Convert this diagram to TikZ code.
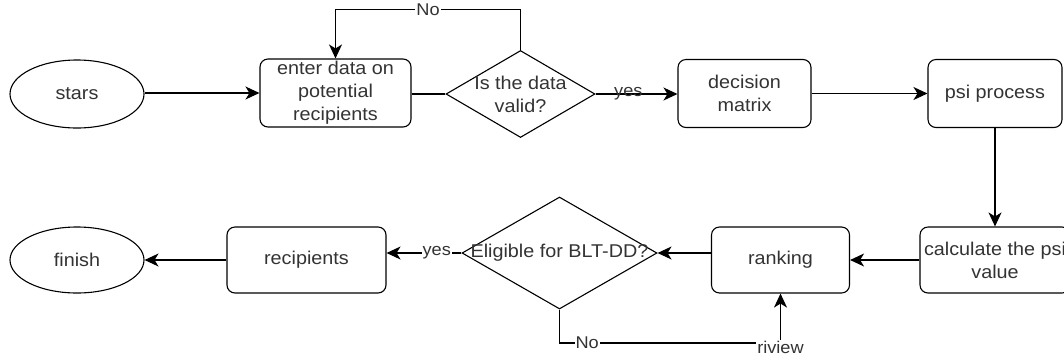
\documentclass[tikz,border=0pt]{standalone}
\usepackage{fontspec}
\setmainfont{Liberation Sans}[FakeStretch=1.07]
\usetikzlibrary{shapes.geometric,arrows.meta}
\begin{document}
\begin{tikzpicture}[x=1pt,y=-1pt,
  every node/.style={font=\fontsize{18.5}{23}\selectfont, text=black!80, align=center},
  oval/.style={draw, ellipse, line width=1.1pt, inner sep=0pt},
  box/.style={draw, rectangle, rounded corners=8pt, line width=1.1pt, inner sep=0pt},
  dia/.style={draw, diamond, line width=1.1pt, inner sep=0pt},
  txt/.style={inner sep=0pt},
  arr/.style={-{Stealth[length=14pt,width=13pt,inset=4pt]}, line width=1.1pt},
  ln/.style={line width=1.1pt},
  lbl/.style={font=\fontsize{17}{20}\selectfont, inner sep=1pt},
  lblw/.style={lbl, fill=white}
]
\useasboundingbox (0,0) rectangle (1064,360);
\begin{scope}
\clip (0,0) rectangle (1064,360);
% top row
\node[oval, minimum width=134pt, minimum height=68pt] (stars) at (77,94) {stars};
\node[box, minimum width=151pt, minimum height=68pt] (enter) at (335.5,93) {};
\node[txt] (entert) at (335.5,93) {enter data on\\potential\\recipients};
\node[dia, minimum width=149pt, minimum height=87pt] (valid) at (520.5,94) {};
\node[txt] (validt) at (520.5,94) {Is the data\\valid?};
\node[box, minimum width=133pt, minimum height=68pt] (decision) at (744.5,93.5) {decision\\matrix};
\node[box, minimum width=134pt, minimum height=68pt] (psi) at (995,93.5) {psi process};
% bottom row
\node[oval, minimum width=134pt, minimum height=66pt] (finish) at (77,260) {finish};
\node[box, minimum width=159pt, minimum height=66pt] (recip) at (306.5,260) {recipients};
\node[dia, minimum width=195pt, minimum height=112pt] (eli) at (559.5,253) {};
\node[txt] (elit) at (559.5,253) {Eligible for BLT-DD?};
\node[box, minimum width=138pt, minimum height=66pt] (ranking) at (780.5,260) {ranking};
\node[box, minimum width=150pt, minimum height=66pt] (calc) at (995,260) {};
\node[txt] (calct) at (995,260) {calculate the psi\\value};
\coordinate (topy) at (0,9.5);
\coordinate (boty) at (0,343);
% connectors
\draw[arr] (stars.east |- enter.west) -- (enter.west);
\draw[ln] (enter.east |- valid.west) -- (valid.west);
\draw[arr] (valid.north) -- (valid.north |- topy) -- node[lblw]{No} (enter.north |- topy) -- (enter.north);
\draw[arr] (valid.east) -- node[lbl, pos=0.4]{yes} (decision.west |- valid.east);
\draw[arr] (decision.east) -- (psi.west);
\draw[arr] (psi.south) -- (calc.north);
\draw[arr] (calc.west) -- (ranking.east);
\draw[arr] (ranking.west |- eli.east) -- (eli.east);
\draw[arr] (eli.west) -- node[lblw, pos=0.33]{yes} (recip.east |- eli.west);
\draw[arr] (recip.west) -- (finish.east);
\draw[ln] (eli.south) -- (eli.south |- boty) -- node[lblw, pos=0.125]{No} (ranking.south |- boty);
\node[lblw] (riview) at (780.5,347) {riview};
\draw[arr] (riview.north) -- (ranking.south);
\end{scope}
\end{tikzpicture}
\end{document}
